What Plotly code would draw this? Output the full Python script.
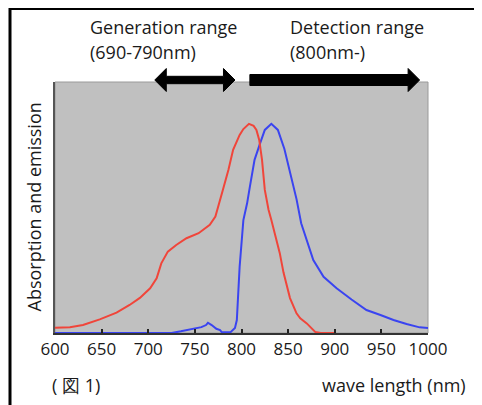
import plotly.graph_objects as go

# ---- data ----
abs_nm = [600, 616, 630, 648, 666, 680, 691, 702, 709, 714, 721, 730, 741, 754,
          766, 772, 780, 786, 791, 798, 802, 808, 813, 816, 819, 822, 825, 829,
          832, 838, 841, 845, 852, 859, 863, 870, 879, 885, 900]
abs_val = [0.025, 0.027, 0.038, 0.065, 0.097, 0.134, 0.168, 0.214, 0.262, 0.333,
           0.389, 0.421, 0.453, 0.477, 0.517, 0.557, 0.684, 0.78, 0.876, 0.947,
           0.975, 1.0, 0.99, 0.971, 0.923, 0.828, 0.684, 0.589, 0.54, 0.43,
           0.383, 0.29, 0.167, 0.094, 0.07, 0.046, 0.005, 0.0, 0.0]

em_nm = [600, 725, 735, 743, 750, 757, 762, 764, 768, 773, 777, 779, 788, 793,
         795, 798, 802, 806, 809, 814, 820, 825, 832, 839, 846, 853, 859, 864,
         870, 877, 888, 902, 918, 934, 949, 963, 977, 991, 1000]
em_val = [0.0, 0.0, 0.008, 0.015, 0.02, 0.028, 0.038, 0.049, 0.038, 0.02, 0.014,
          0.003, 0.003, 0.024, 0.062, 0.317, 0.54, 0.62, 0.70, 0.828, 0.908,
          0.971, 1.0, 0.971, 0.88, 0.75, 0.64, 0.525, 0.445, 0.349, 0.269,
          0.214, 0.16, 0.11, 0.086, 0.062, 0.043, 0.027, 0.024]

x_ticks = [600, 650, 700, 750, 800, 850, 900, 950, 1000]
x_tick_labels = ["600", "650", "700", "750", "800", "850", "900", "950", "1000"]

gen_range = [707, 793]    # double arrow (nm)
det_range = [809, 991]    # right arrow (nm)

FONT = "Open Sans"
OFF = 8                      # page body margin
W, H = 482 - OFF, 405 - OFF
L, R, T, B = 55 - OFF, 54, 82 - OFF, 72
PW, PH = W - L - R, H - T - B


def px_x(p):  # reference-window pixel x -> paper
    return (p - OFF - L) / PW


def px_y(p):  # reference-window pixel y -> paper
    return (H - B - (p - OFF)) / PH


fig = go.Figure()
fig.add_trace(go.Scatter(x=em_nm, y=em_val, mode="lines",
                         line=dict(color="#3a44f0", width=2), showlegend=False))
fig.add_trace(go.Scatter(x=abs_nm, y=abs_val, mode="lines",
                         line=dict(color="#f0453a", width=2), showlegend=False))

shapes = []
# plot frame
shapes.append(dict(type="rect", xref="paper", yref="paper", x0=0, x1=1, y0=0, y1=1,
                   line=dict(color="#9a9a9a", width=1), layer="below"))
# outer black border (left and top)
shapes.append(dict(type="line", xref="paper", yref="paper",
                   x0=px_x(10), x1=px_x(10), y0=px_y(8), y1=px_y(420),
                   line=dict(color="black", width=3)))
shapes.append(dict(type="line", xref="paper", yref="paper",
                   x0=px_x(9), x1=px_x(500), y0=px_y(9), y1=px_y(9),
                   line=dict(color="black", width=2)))

# arrows
yc = px_y(80)
hh = 11.5 / PH
bh_g = 3.7 / PH
bh_d = 5.5 / PH
hl = 11.5 * 400 / PW  # head length in nm
a, b = gen_range
path_g = (f"M{a},{yc} L{a+hl},{yc+hh} L{a+hl},{yc+bh_g} L{b-hl},{yc+bh_g} "
          f"L{b-hl},{yc+hh} L{b},{yc} L{b-hl},{yc-hh} L{b-hl},{yc-bh_g} "
          f"L{a+hl},{yc-bh_g} L{a+hl},{yc-hh} Z")
c, d = det_range
path_d = (f"M{c},{yc+bh_d} L{d-hl},{yc+bh_d} L{d-hl},{yc+hh} L{d},{yc} "
          f"L{d-hl},{yc-hh} L{d-hl},{yc-bh_d} L{c},{yc-bh_d} Z")
for p in (path_g, path_d):
    shapes.append(dict(type="path", xref="x", yref="paper", path=p,
                       fillcolor="black", line=dict(color="black", width=1)))

ann = []
tf = dict(family=FONT, size=18, color="#1a1a1a")
ann.append(dict(text="Generation range", x=px_x(88), y=px_y(27)))
ann.append(dict(text="(690-790nm)", x=px_x(88), y=px_y(52)))
ann.append(dict(text="Detection range", x=px_x(288), y=px_y(27)))
ann.append(dict(text="(800nm-)", x=px_x(288), y=px_y(52)))
ann.append(dict(text="( 図 1)", x=px_x(50), y=px_y(385)))
ann.append(dict(text="wave length (nm)", x=px_x(320), y=px_y(385)))
for a_ in ann:
    a_.update(xref="paper", yref="paper", xanchor="left", yanchor="middle",
              showarrow=False, font=tf)
ann.append(dict(text="Absorption and emission", xref="paper", yref="paper",
                x=px_x(33), y=0.5, xanchor="center", yanchor="middle",
                textangle=-90, showarrow=False, font=tf))

fig.update_layout(
    width=W, height=H,
    margin=dict(l=L, r=R, t=T, b=B),
    paper_bgcolor="white", plot_bgcolor="#c0c0c0",
    shapes=shapes, annotations=ann,
    xaxis=dict(range=[600, 1000], tickvals=x_ticks, ticktext=x_tick_labels,
               ticks="inside", ticklen=4, tickcolor="#222", tickwidth=1.5,
               showline=True, linecolor="#333", linewidth=2, showgrid=False,
               zeroline=False, tickfont=dict(family=FONT, size=17, color="#1a1a1a")),
    yaxis=dict(range=[0, 1.2], showticklabels=False, ticks="", showgrid=False,
               zeroline=False, showline=True, linecolor="#555", linewidth=1.5),
)

fig.write_html("out.html")
